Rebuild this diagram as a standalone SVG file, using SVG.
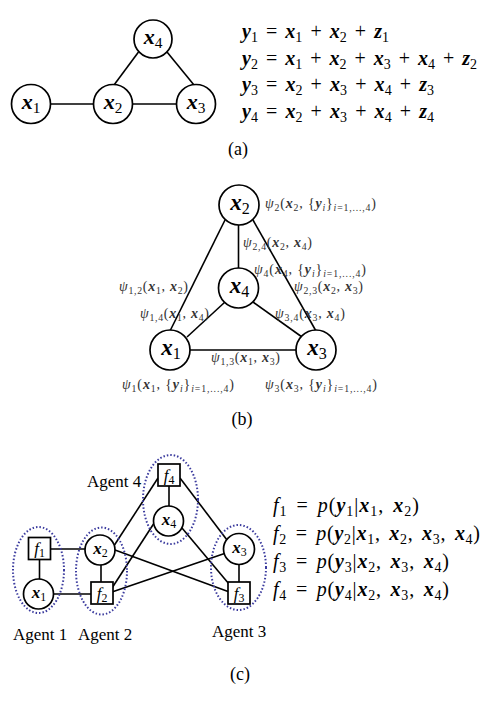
<svg xmlns="http://www.w3.org/2000/svg" width="482" height="702" viewBox="0 0 482 702">
<style>
text{font-family:"Liberation Serif","Times New Roman",serif;fill:#000}
.bi{font-weight:bold;font-style:italic}
.it{font-style:italic}
.sb{font-size:70%}
.node{fill:#fff;stroke:#000;stroke-width:1.7}
.edge{stroke:#000;stroke-width:1.6;fill:none}
.agent{fill:none;stroke:#3b3b9e;stroke-width:2;stroke-dasharray:1.5 2}
.lbl{font-size:14px;fill:#333}
.eq{font-size:20px;word-spacing:3px}
.na{font-size:22px}
.nb{font-size:23px}
.nc{font-size:17px}
.cap{font-size:18px}
.ag{font-size:17px}
</style>
<rect width="482" height="702" fill="#fff"/>

<!-- Panel (a) -->
<g id="a-edges">
<line class="edge" x1="50.5" y1="104" x2="93" y2="104"/>
<line class="edge" x1="132.5" y1="104" x2="176.5" y2="104"/>
<line class="edge" x1="138.5" y1="52" x2="114" y2="85"/>
<line class="edge" x1="167" y1="52" x2="194" y2="85"/>
</g>
<g id="a-x1"><circle class="node" cx="31" cy="104" r="19.5"/><text class="na" x="31" y="109" text-anchor="middle"><tspan class="bi">x</tspan><tspan class="sb" dy="4">1</tspan></text></g>
<g id="a-x2"><circle class="node" cx="113" cy="104" r="19.5"/><text class="na" x="113" y="109" text-anchor="middle"><tspan class="bi">x</tspan><tspan class="sb" dy="4">2</tspan></text></g>
<g id="a-x3"><circle class="node" cx="196" cy="104" r="19.5"/><text class="na" x="196" y="109" text-anchor="middle"><tspan class="bi">x</tspan><tspan class="sb" dy="4">3</tspan></text></g>
<g id="a-x4"><circle class="node" cx="153" cy="39" r="19"/><text class="na" x="153" y="44" text-anchor="middle"><tspan class="bi">x</tspan><tspan class="sb" dy="4">4</tspan></text></g>
<g id="a-equations">
<text class="eq" x="242" y="38" textLength="147"><tspan class="bi">y</tspan><tspan class="sb" dy="4">1</tspan><tspan dy="-4"> = </tspan><tspan class="bi">x</tspan><tspan class="sb" dy="4">1</tspan><tspan dy="-4"> + </tspan><tspan class="bi">x</tspan><tspan class="sb" dy="4">2</tspan><tspan dy="-4"> + </tspan><tspan class="bi">z</tspan><tspan class="sb" dy="4">1</tspan></text>
<text class="eq" x="242" y="64.5" textLength="235"><tspan class="bi">y</tspan><tspan class="sb" dy="4">2</tspan><tspan dy="-4"> = </tspan><tspan class="bi">x</tspan><tspan class="sb" dy="4">1</tspan><tspan dy="-4"> + </tspan><tspan class="bi">x</tspan><tspan class="sb" dy="4">2</tspan><tspan dy="-4"> + </tspan><tspan class="bi">x</tspan><tspan class="sb" dy="4">3</tspan><tspan dy="-4"> + </tspan><tspan class="bi">x</tspan><tspan class="sb" dy="4">4</tspan><tspan dy="-4"> + </tspan><tspan class="bi">z</tspan><tspan class="sb" dy="4">2</tspan></text>
<text class="eq" x="242" y="91" textLength="192"><tspan class="bi">y</tspan><tspan class="sb" dy="4">3</tspan><tspan dy="-4"> = </tspan><tspan class="bi">x</tspan><tspan class="sb" dy="4">2</tspan><tspan dy="-4"> + </tspan><tspan class="bi">x</tspan><tspan class="sb" dy="4">3</tspan><tspan dy="-4"> + </tspan><tspan class="bi">x</tspan><tspan class="sb" dy="4">4</tspan><tspan dy="-4"> + </tspan><tspan class="bi">z</tspan><tspan class="sb" dy="4">3</tspan></text>
<text class="eq" x="242" y="117.5" textLength="192"><tspan class="bi">y</tspan><tspan class="sb" dy="4">4</tspan><tspan dy="-4"> = </tspan><tspan class="bi">x</tspan><tspan class="sb" dy="4">2</tspan><tspan dy="-4"> + </tspan><tspan class="bi">x</tspan><tspan class="sb" dy="4">3</tspan><tspan dy="-4"> + </tspan><tspan class="bi">x</tspan><tspan class="sb" dy="4">4</tspan><tspan dy="-4"> + </tspan><tspan class="bi">z</tspan><tspan class="sb" dy="4">4</tspan></text>
</g>
<text class="cap" x="238" y="155" text-anchor="middle">(a)</text>

<!-- Panel (b) -->
<g id="b-edges">
<line class="edge" x1="238.5" y1="225" x2="238.5" y2="268"/>
<line class="edge" x1="225" y1="220" x2="170" y2="331"/>
<line class="edge" x1="253" y1="220" x2="316" y2="331"/>
<line class="edge" x1="225" y1="302" x2="187" y2="337"/>
<line class="edge" x1="253" y1="302" x2="302" y2="337"/>
<line class="edge" x1="190" y1="350" x2="296" y2="350"/>
</g>
<g id="b-x2"><circle class="node" cx="239" cy="205" r="20"/><text class="nb" x="240" y="210" text-anchor="middle"><tspan class="bi">x</tspan><tspan class="sb" dy="4">2</tspan></text></g>
<g id="b-x4"><circle class="node" cx="238.5" cy="288" r="20"/><text class="nb" x="239.5" y="293" text-anchor="middle"><tspan class="bi">x</tspan><tspan class="sb" dy="4">4</tspan></text></g>
<g id="b-x1"><circle class="node" cx="170" cy="350" r="20"/><text class="nb" x="171" y="355" text-anchor="middle"><tspan class="bi">x</tspan><tspan class="sb" dy="4">1</tspan></text></g>
<g id="b-x3"><circle class="node" cx="316" cy="350" r="20"/><text class="nb" x="317" y="355" text-anchor="middle"><tspan class="bi">x</tspan><tspan class="sb" dy="4">3</tspan></text></g>
<g id="b-labels">
<text class="lbl" x="265" y="208" textLength="111"><tspan class="it">ψ</tspan><tspan class="sb" dy="3">2</tspan><tspan dy="-3">(</tspan><tspan class="bi">x</tspan><tspan class="sb" dy="3">2</tspan><tspan dy="-3">, {</tspan><tspan class="bi">y</tspan><tspan class="sb it" dy="3">i</tspan><tspan dy="-3">}</tspan><tspan class="sb" dy="3"><tspan class="it">i</tspan>=1,...,4</tspan><tspan dy="-3">)</tspan></text>
<text class="lbl" x="243" y="247" textLength="69"><tspan class="it">ψ</tspan><tspan class="sb" dy="3">2,4</tspan><tspan dy="-3">(</tspan><tspan class="bi">x</tspan><tspan class="sb" dy="3">2</tspan><tspan dy="-3">, </tspan><tspan class="bi">x</tspan><tspan class="sb" dy="3">4</tspan><tspan dy="-3">)</tspan></text>
<text class="lbl" x="254" y="274" textLength="112"><tspan class="it">ψ</tspan><tspan class="sb" dy="3">4</tspan><tspan dy="-3">(</tspan><tspan class="bi">x</tspan><tspan class="sb" dy="3">4</tspan><tspan dy="-3">, {</tspan><tspan class="bi">y</tspan><tspan class="sb it" dy="3">i</tspan><tspan dy="-3">}</tspan><tspan class="sb" dy="3"><tspan class="it">i</tspan>=1,...,4</tspan><tspan dy="-3">)</tspan></text>
<text class="lbl" x="119" y="291" textLength="69"><tspan class="it">ψ</tspan><tspan class="sb" dy="3">1,2</tspan><tspan dy="-3">(</tspan><tspan class="bi">x</tspan><tspan class="sb" dy="3">1</tspan><tspan dy="-3">, </tspan><tspan class="bi">x</tspan><tspan class="sb" dy="3">2</tspan><tspan dy="-3">)</tspan></text>
<text class="lbl" x="294" y="291" textLength="69"><tspan class="it">ψ</tspan><tspan class="sb" dy="3">2,3</tspan><tspan dy="-3">(</tspan><tspan class="bi">x</tspan><tspan class="sb" dy="3">2</tspan><tspan dy="-3">, </tspan><tspan class="bi">x</tspan><tspan class="sb" dy="3">3</tspan><tspan dy="-3">)</tspan></text>
<text class="lbl" x="140" y="318" textLength="69"><tspan class="it">ψ</tspan><tspan class="sb" dy="3">1,4</tspan><tspan dy="-3">(</tspan><tspan class="bi">x</tspan><tspan class="sb" dy="3">1</tspan><tspan dy="-3">, </tspan><tspan class="bi">x</tspan><tspan class="sb" dy="3">4</tspan><tspan dy="-3">)</tspan></text>
<text class="lbl" x="275" y="318" textLength="70"><tspan class="it">ψ</tspan><tspan class="sb" dy="3">3,4</tspan><tspan dy="-3">(</tspan><tspan class="bi">x</tspan><tspan class="sb" dy="3">3</tspan><tspan dy="-3">, </tspan><tspan class="bi">x</tspan><tspan class="sb" dy="3">4</tspan><tspan dy="-3">)</tspan></text>
<text class="lbl" x="211" y="362" textLength="69"><tspan class="it">ψ</tspan><tspan class="sb" dy="3">1,3</tspan><tspan dy="-3">(</tspan><tspan class="bi">x</tspan><tspan class="sb" dy="3">1</tspan><tspan dy="-3">, </tspan><tspan class="bi">x</tspan><tspan class="sb" dy="3">3</tspan><tspan dy="-3">)</tspan></text>
<text class="lbl" x="122" y="389" textLength="112"><tspan class="it">ψ</tspan><tspan class="sb" dy="3">1</tspan><tspan dy="-3">(</tspan><tspan class="bi">x</tspan><tspan class="sb" dy="3">1</tspan><tspan dy="-3">, {</tspan><tspan class="bi">y</tspan><tspan class="sb it" dy="3">i</tspan><tspan dy="-3">}</tspan><tspan class="sb" dy="3"><tspan class="it">i</tspan>=1,...,4</tspan><tspan dy="-3">)</tspan></text>
<text class="lbl" x="265" y="389" textLength="112"><tspan class="it">ψ</tspan><tspan class="sb" dy="3">3</tspan><tspan dy="-3">(</tspan><tspan class="bi">x</tspan><tspan class="sb" dy="3">3</tspan><tspan dy="-3">, {</tspan><tspan class="bi">y</tspan><tspan class="sb it" dy="3">i</tspan><tspan dy="-3">}</tspan><tspan class="sb" dy="3"><tspan class="it">i</tspan>=1,...,4</tspan><tspan dy="-3">)</tspan></text>
</g>
<text class="cap" x="242" y="425" text-anchor="middle">(b)</text>

<!-- Panel (c) -->
<g id="c-edges">
<line class="edge" x1="39.5" y1="559" x2="39.5" y2="579"/>
<line class="edge" x1="50.5" y1="549" x2="85" y2="549"/>
<line class="edge" x1="53.5" y1="594" x2="91" y2="594"/>
<line class="edge" x1="101" y1="565" x2="101" y2="582"/>
<line class="edge" x1="112.7" y1="591.7" x2="224.5" y2="553.5"/>
<line class="edge" x1="115" y1="550" x2="228" y2="591.5"/>
<line class="edge" x1="112" y1="588" x2="153.5" y2="524"/>
<line class="edge" x1="114.5" y1="545" x2="158" y2="478"/>
<line class="edge" x1="180" y1="478" x2="227" y2="540"/>
<line class="edge" x1="182" y1="528" x2="229" y2="584"/>
<line class="edge" x1="239" y1="564.5" x2="239" y2="582"/>
<line class="edge" x1="169" y1="486" x2="169" y2="506"/>
</g>
<g id="c-f1"><rect class="node" x="28.5" y="537.5" width="22" height="22"/><text class="nc" x="39.5" y="554" text-anchor="middle"><tspan class="it">f</tspan><tspan class="sb" dy="3">1</tspan></text></g>
<g id="c-x1"><circle class="node" cx="38.5" cy="594" r="15"/><text class="nc" x="39" y="598" text-anchor="middle"><tspan class="bi">x</tspan><tspan class="sb" dy="3">1</tspan></text></g>
<g id="c-x2"><circle class="node" cx="100" cy="550" r="15"/><text class="nc" x="100.5" y="554" text-anchor="middle"><tspan class="bi">x</tspan><tspan class="sb" dy="3">2</tspan></text></g>
<g id="c-f2"><rect class="node" x="91" y="582" width="22" height="22"/><text class="nc" x="102" y="598.5" text-anchor="middle"><tspan class="it">f</tspan><tspan class="sb" dy="3">2</tspan></text></g>
<g id="c-x3"><circle class="node" cx="239" cy="549" r="15.5"/><text class="nc" x="239.5" y="553" text-anchor="middle"><tspan class="bi">x</tspan><tspan class="sb" dy="3">3</tspan></text></g>
<g id="c-f3"><rect class="node" x="228" y="582" width="22" height="22"/><text class="nc" x="239" y="598.5" text-anchor="middle"><tspan class="it">f</tspan><tspan class="sb" dy="3">3</tspan></text></g>
<g id="c-x4"><circle class="node" cx="168.5" cy="521" r="15"/><text class="nc" x="169" y="525" text-anchor="middle"><tspan class="bi">x</tspan><tspan class="sb" dy="3">4</tspan></text></g>
<g id="c-f4"><rect class="node" x="158" y="464" width="22" height="22"/><text class="nc" x="169" y="480.5" text-anchor="middle"><tspan class="it">f</tspan><tspan class="sb" dy="3">4</tspan></text></g>
<g id="c-agent1"><ellipse class="agent" cx="38.5" cy="570" rx="25.5" ry="43"/><text class="ag" x="13" y="640">Agent 1</text></g>
<g id="c-agent2"><ellipse class="agent" cx="101.5" cy="571" rx="25.5" ry="43.5"/><text class="ag" x="78" y="640">Agent 2</text></g>
<g id="c-agent3"><ellipse class="agent" cx="238.5" cy="567.5" rx="27.5" ry="42.5"/><text class="ag" x="212" y="637">Agent 3</text></g>
<g id="c-agent4"><ellipse class="agent" cx="170.5" cy="499.5" rx="27.5" ry="44.5"/><text class="ag" x="87" y="487">Agent 4</text></g>
<g id="c-equations">
<text class="eq" x="273" y="512" textLength="146"><tspan class="it">f</tspan><tspan class="sb" dy="4">1</tspan><tspan dy="-4"> = </tspan><tspan class="it">p</tspan>(<tspan class="bi">y</tspan><tspan class="sb" dy="4">1</tspan><tspan dy="-4">|</tspan><tspan class="bi">x</tspan><tspan class="sb" dy="4">1</tspan><tspan dy="-4">, </tspan><tspan class="bi">x</tspan><tspan class="sb" dy="4">2</tspan><tspan dy="-4">)</tspan></text>
<text class="eq" x="273" y="540" textLength="207"><tspan class="it">f</tspan><tspan class="sb" dy="4">2</tspan><tspan dy="-4"> = </tspan><tspan class="it">p</tspan>(<tspan class="bi">y</tspan><tspan class="sb" dy="4">2</tspan><tspan dy="-4">|</tspan><tspan class="bi">x</tspan><tspan class="sb" dy="4">1</tspan><tspan dy="-4">, </tspan><tspan class="bi">x</tspan><tspan class="sb" dy="4">2</tspan><tspan dy="-4">, </tspan><tspan class="bi">x</tspan><tspan class="sb" dy="4">3</tspan><tspan dy="-4">, </tspan><tspan class="bi">x</tspan><tspan class="sb" dy="4">4</tspan><tspan dy="-4">)</tspan></text>
<text class="eq" x="273" y="568" textLength="176"><tspan class="it">f</tspan><tspan class="sb" dy="4">3</tspan><tspan dy="-4"> = </tspan><tspan class="it">p</tspan>(<tspan class="bi">y</tspan><tspan class="sb" dy="4">3</tspan><tspan dy="-4">|</tspan><tspan class="bi">x</tspan><tspan class="sb" dy="4">2</tspan><tspan dy="-4">, </tspan><tspan class="bi">x</tspan><tspan class="sb" dy="4">3</tspan><tspan dy="-4">, </tspan><tspan class="bi">x</tspan><tspan class="sb" dy="4">4</tspan><tspan dy="-4">)</tspan></text>
<text class="eq" x="273" y="596" textLength="176"><tspan class="it">f</tspan><tspan class="sb" dy="4">4</tspan><tspan dy="-4"> = </tspan><tspan class="it">p</tspan>(<tspan class="bi">y</tspan><tspan class="sb" dy="4">4</tspan><tspan dy="-4">|</tspan><tspan class="bi">x</tspan><tspan class="sb" dy="4">2</tspan><tspan dy="-4">, </tspan><tspan class="bi">x</tspan><tspan class="sb" dy="4">3</tspan><tspan dy="-4">, </tspan><tspan class="bi">x</tspan><tspan class="sb" dy="4">4</tspan><tspan dy="-4">)</tspan></text>
</g>
<text class="cap" x="240" y="680" text-anchor="middle">(c)</text>
</svg>
